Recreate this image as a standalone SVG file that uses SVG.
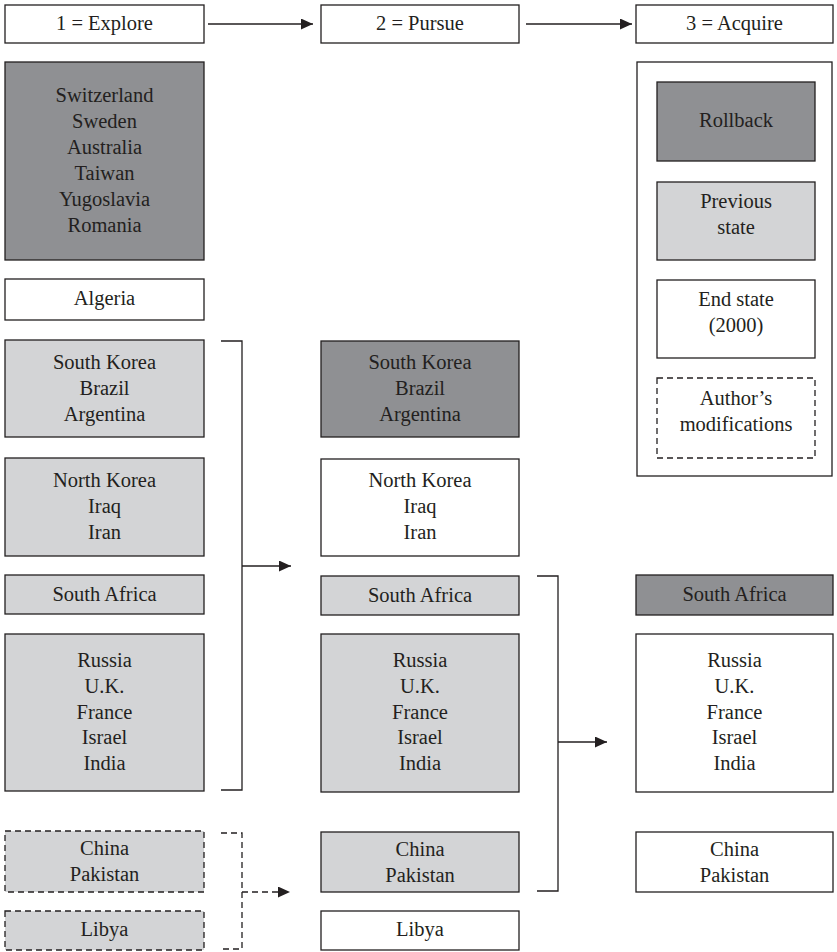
<svg xmlns="http://www.w3.org/2000/svg" width="837" height="952" viewBox="0 0 837 952">
<style>
  .box{stroke:#231f20;stroke-width:1.3}
  .w{fill:#ffffff}
  .lt{fill:#d3d4d6}
  .dk{fill:#8f9093}
  .dash{stroke-dasharray:6 4}
  text{font-family:"Liberation Serif",serif;font-size:20.5px;fill:#231f20;text-anchor:middle}
  .conn{fill:none;stroke:#231f20;stroke-width:1.3}
</style>
<defs>
  <marker id="ah" viewBox="0 0 12 11" refX="12" refY="5.5" markerWidth="12" markerHeight="11" markerUnits="userSpaceOnUse" orient="auto">
    <path d="M0,0 L12,5.5 L0,11 z" fill="#231f20"/>
  </marker>
</defs>
<rect width="837" height="952" fill="#ffffff"/>
<g id="h1"><rect class="box w" x="5" y="5" width="199" height="38"/><text x="104.5" y="30">1 = Explore</text></g>
<g id="h2"><rect class="box w" x="321" y="5" width="198" height="38"/><text x="420" y="30">2 = Pursue</text></g>
<g id="h3"><rect class="box w" x="636" y="5" width="197" height="38"/><text x="734.5" y="30">3 = Acquire</text></g>

<g id="c1-rollback"><rect class="box dk" x="5" y="62" width="199" height="198"/>
<text x="104.5" y="102">Switzerland</text><text x="104.5" y="128">Sweden</text><text x="104.5" y="154">Australia</text><text x="104.5" y="180">Taiwan</text><text x="104.5" y="206">Yugoslavia</text><text x="104.5" y="232">Romania</text></g>
<g id="c1-algeria"><rect class="box w" x="5" y="279" width="199" height="41"/><text x="104.5" y="305">Algeria</text></g>
<g id="c1-skorea"><rect class="box lt" x="5" y="340" width="199" height="97"/>
<text x="104.5" y="369">South Korea</text><text x="104.5" y="395">Brazil</text><text x="104.5" y="421">Argentina</text></g>
<g id="c1-nkorea"><rect class="box lt" x="5" y="458" width="199" height="98"/>
<text x="104.5" y="487">North Korea</text><text x="104.5" y="513">Iraq</text><text x="104.5" y="539">Iran</text></g>
<g id="c1-safrica"><rect class="box lt" x="5" y="575" width="199" height="39"/><text x="104.5" y="601">South Africa</text></g>
<g id="c1-russia"><rect class="box lt" x="5" y="634" width="199" height="157"/>
<text x="104.5" y="667">Russia</text><text x="104.5" y="693">U.K.</text><text x="104.5" y="719">France</text><text x="104.5" y="744">Israel</text><text x="104.5" y="770">India</text></g>
<g id="c1-china"><rect class="box lt dash" x="5" y="831" width="199" height="61"/>
<text x="104.5" y="855">China</text><text x="104.5" y="881">Pakistan</text></g>
<g id="c1-libya"><rect class="box lt dash" x="5" y="911" width="199" height="39"/><text x="104.5" y="936">Libya</text></g>

<g id="c2-skorea"><rect class="box dk" x="321" y="341" width="198" height="96"/>
<text x="420" y="369">South Korea</text><text x="420" y="395">Brazil</text><text x="420" y="421">Argentina</text></g>
<g id="c2-nkorea"><rect class="box w" x="321" y="459" width="198" height="97"/>
<text x="420" y="487">North Korea</text><text x="420" y="513">Iraq</text><text x="420" y="539">Iran</text></g>
<g id="c2-safrica"><rect class="box lt" x="321" y="576" width="198" height="39"/><text x="420" y="602">South Africa</text></g>
<g id="c2-russia"><rect class="box lt" x="321" y="634" width="198" height="158"/>
<text x="420" y="667">Russia</text><text x="420" y="693">U.K.</text><text x="420" y="719">France</text><text x="420" y="744">Israel</text><text x="420" y="770">India</text></g>
<g id="c2-china"><rect class="box lt" x="321" y="832" width="198" height="60"/>
<text x="420" y="856">China</text><text x="420" y="882">Pakistan</text></g>
<g id="c2-libya"><rect class="box w" x="321" y="911" width="198" height="39"/><text x="420" y="936">Libya</text></g>

<g id="legend"><rect class="box w" x="637" y="62" width="195" height="414"/>
<rect class="box dk" x="657" y="82" width="158" height="79"/><text x="736" y="127">Rollback</text>
<rect class="box lt" x="657" y="182" width="158" height="78"/><text x="736" y="208">Previous</text><text x="736" y="234">state</text>
<rect class="box w" x="657" y="280" width="158" height="78"/><text x="736" y="306">End state</text><text x="736" y="332">(2000)</text>
<rect class="box w dash" x="657" y="378" width="158" height="80"/><text x="736" y="405">Author’s</text><text x="736" y="431">modifications</text></g>

<g id="c3-safrica"><rect class="box dk" x="636" y="575" width="197" height="40"/><text x="734.5" y="601">South Africa</text></g>
<g id="c3-russia"><rect class="box w" x="636" y="634" width="197" height="158"/>
<text x="734.5" y="667">Russia</text><text x="734.5" y="693">U.K.</text><text x="734.5" y="719">France</text><text x="734.5" y="744">Israel</text><text x="734.5" y="770">India</text></g>
<g id="c3-china"><rect class="box w" x="636" y="832" width="197" height="60"/>
<text x="734.5" y="856">China</text><text x="734.5" y="882">Pakistan</text></g>

<g id="connectors">
  <path class="conn" d="M208 24 H313" marker-end="url(#ah)"/>
  <path class="conn" d="M526 24 H632" marker-end="url(#ah)"/>
  <path class="conn" d="M221 341 H242 V790 H221"/>
  <path class="conn" d="M242 566 H291" marker-end="url(#ah)"/>
  <path class="conn dash" d="M221 833 H242 V949 H221"/>
  <path class="conn dash" d="M242 892 H290" marker-end="url(#ah)"/>
  <path class="conn" d="M537 576 H558 V891 H537"/>
  <path class="conn" d="M558 742 H607" marker-end="url(#ah)"/>
</g>
</svg>
